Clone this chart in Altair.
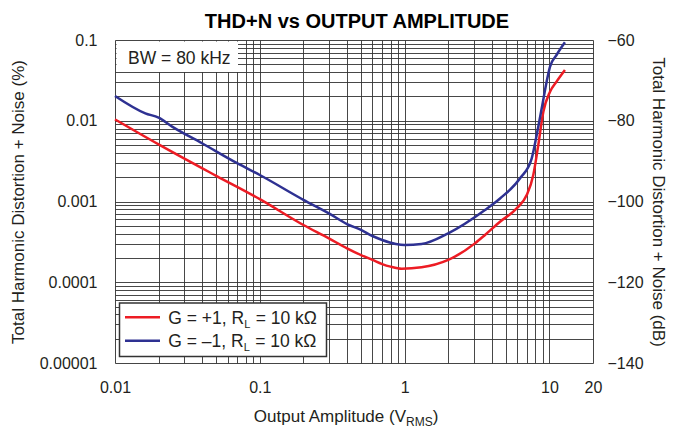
import altair as alt
import pandas as pd

# ---------------- text ----------------
title_text = "THD+N vs OUTPUT AMPLITUDE"
x_title_parts = ["Output Amplitude (V", "RMS", ")"]
y_title_left = "Total Harmonic Distortion + Noise (%)"
y_title_right = "Total Harmonic Distortion + Noise (dB)"
bw_note = "BW = 80 kHz"

series_names = ["G = +1, RL = 10 kΩ", "G = –1, RL = 10 kΩ"]
legend_main = ["G = +1, R", "G = –1, R"]
legend_sub = ["L", "L"]
legend_tail = ["= 10 kΩ", "= 10 kΩ"]
series_colors = ["#ED1C24", "#2E3192"]

# ---------------- data ----------------
gpos_amp = [0.01, 0.02, 0.05, 0.1, 0.2, 0.3, 0.4, 0.5, 0.6, 0.7, 0.8, 0.955,
            1.31, 2.0, 3.06, 3.59, 4.56, 5.94, 6.97, 7.74, 8.38, 9.08, 10.1,
            11.2, 12.8]
gpos_thd = [0.0104, 0.0051, 0.00208, 0.00107, 0.000512, 0.00035, 0.000263,
            0.000217, 0.000189, 0.000168, 0.000156, 0.000147, 0.000153,
            0.000189, 0.000303, 0.000385, 0.000562, 0.000822, 0.0012,
            0.00213, 0.00501, 0.01294, 0.0229, 0.0305, 0.0425]

gneg_amp = [0.01, 0.0162, 0.02, 0.0248, 0.0399, 0.0692, 0.1, 0.2, 0.3, 0.4,
            0.5, 0.6, 0.7, 0.87, 1.0, 1.31, 2.0, 3.59, 4.56, 6.27, 7.55, 8.17,
            8.85, 9.57, 10.1, 11.2, 12.8]
gneg_thd = [0.0203, 0.01236, 0.0109, 0.00845, 0.00526, 0.003, 0.00213,
            0.00105, 0.000714, 0.000526, 0.000444, 0.000374, 0.000334,
            0.000298, 0.000289, 0.000298, 0.000404, 0.000785, 0.00109,
            0.00194, 0.00343, 0.00667, 0.01426, 0.0305, 0.0468, 0.0652, 0.0936]

x_major = [0.01, 0.1, 1, 10, 20]
y_major = [0.00001, 0.0001, 0.001, 0.01, 0.1]
db_ticks = [-140, -120, -100, -80, -60]

x_grid = [round(m * 10.0 ** e, 10) for e in (-2, -1, 0) for m in range(1, 10)] + [10, 20]
y_grid = [round(m * 10.0 ** e, 12) for e in (-5, -4, -3, -2) for m in range(1, 10)] + [0.1]

rows = []
for name, xs, ys in [(series_names[0], gpos_amp, gpos_thd),
                     (series_names[1], gneg_amp, gneg_thd)]:
    for i, (a, t) in enumerate(zip(xs, ys)):
        rows.append({"series": name, "amp": a, "thd": t, "i": i})
df = pd.DataFrame(rows)

FONT = "Liberation Sans"
INK = "#231F20"
GRID = "#333333"
W, H = 478, 323

def lbl_expr(vals):
    arr = ",".join(repr(v) for v in vals)
    return f"indexof([{arr}], datum.value) >= 0 ? format(datum.value, '~g') : ''"

x_scale = alt.Scale(type="log", domain=[0.01, 20], nice=False)
y_scale = alt.Scale(type="log", domain=[0.00001, 0.1], nice=False)

x_axis = alt.Axis(values=x_grid, labelExpr=lbl_expr(x_major), title=None,
                  grid=True, gridColor=GRID, gridWidth=0.9,
                  ticks=False, tickSize=0, domain=False, labelPadding=16,
                  labelFontSize=16, labelColor=INK, labelFont=FONT,
                  labelFlush=False, labelOverlap=False, labelBound=False)
y_axis = alt.Axis(values=y_grid, labelExpr=lbl_expr(y_major), orient="left",
                  title=y_title_left, titleX=-97, titleY=H / 2, titleAngle=-90,
                  titleBaseline="middle", titleAlign="center",
                  titleFontSize=17, titleFontWeight="normal", titleColor=INK, titleFont=FONT,
                  grid=True, gridColor=GRID, gridWidth=0.9,
                  ticks=False, tickSize=0, domain=False, labelPadding=18,
                  labelFontSize=16, labelColor=INK, labelFont=FONT,
                  labelOverlap=False, labelBound=False, labelFlush=False)

lines = alt.Chart(df).mark_line(strokeWidth=2.5, interpolate="monotone").encode(
    x=alt.X("amp:Q", scale=x_scale, axis=x_axis),
    y=alt.Y("thd:Q", scale=y_scale, axis=y_axis),
    color=alt.Color("series:N", scale=alt.Scale(domain=series_names, range=series_colors), legend=None),
    order=alt.Order("i:Q"),
)

# BW note
bw_df = pd.DataFrame({"t": [bw_note]})
bw_box = alt.Chart(bw_df).mark_rect(fill="white").encode(
    x=alt.value(1.5), x2=alt.value(123), y=alt.value(1.5), y2=alt.value(32))
bw_text = alt.Chart(bw_df).mark_text(align="left", baseline="alphabetic", fontSize=17.5,
                                     font=FONT, color=INK).encode(
    x=alt.value(13), y=alt.value(24.3), text="t:N")

# legend
leg_df = pd.DataFrame({"t": ["legend"]})
leg_box = alt.Chart(leg_df).mark_rect(fill="white", stroke="#333333", strokeWidth=1.5).encode(
    x=alt.value(4.5), x2=alt.value(211.5), y=alt.value(263), y2=alt.value(316.5))

leg_layers = []
row_y = [277.3, 300.7]
main_w = [75.9, 75.4]
for k in range(2):
    cy = row_y[k]
    leg_layers.append(alt.Chart(leg_df).mark_rule(strokeWidth=2.5, color=series_colors[k]).encode(
        x=alt.value(10), x2=alt.value(45), y=alt.value(cy)))
    leg_layers.append(alt.Chart(pd.DataFrame({"t": [legend_main[k]]})).mark_text(
        align="left", baseline="alphabetic", fontSize=17.5, font=FONT, color=INK).encode(
        x=alt.value(53.3), y=alt.value(cy + 6.3), text="t:N"))
    leg_layers.append(alt.Chart(pd.DataFrame({"t": [legend_sub[k]]})).mark_text(
        align="left", baseline="alphabetic", fontSize=11, font=FONT, color=INK).encode(
        x=alt.value(53.3 + main_w[k]), y=alt.value(cy + 10.5), text="t:N"))
    leg_layers.append(alt.Chart(pd.DataFrame({"t": [legend_tail[k]]})).mark_text(
        align="left", baseline="alphabetic", fontSize=17.5, font=FONT, color=INK).encode(
        x=alt.value(53.3 + main_w[k] + 11.5), y=alt.value(cy + 6.3), text="t:N"))

# chart title
title_mark = alt.Chart(pd.DataFrame({"t": [title_text]})).mark_text(
    align="center", baseline="alphabetic", fontSize=20, fontWeight="bold", font=FONT, color="#000000").encode(
    x=alt.value(242), y=alt.value(-12.3), text="t:N")

# x axis title with subscript
xt_x = 291
xt_layers = [
    alt.Chart(pd.DataFrame({"t": [x_title_parts[0]]})).mark_text(
        align="right", baseline="alphabetic", fontSize=17, font=FONT, color=INK).encode(
        x=alt.value(xt_x), y=alt.value(381.7), text="t:N"),
    alt.Chart(pd.DataFrame({"t": [x_title_parts[1]]})).mark_text(
        align="left", baseline="alphabetic", fontSize=12, font=FONT, color=INK).encode(
        x=alt.value(xt_x), y=alt.value(385.7), text="t:N"),
    alt.Chart(pd.DataFrame({"t": [x_title_parts[2]]})).mark_text(
        align="left", baseline="alphabetic", fontSize=17, font=FONT, color=INK).encode(
        x=alt.value(xt_x + 26.7), y=alt.value(381.7), text="t:N"),
]

# right dB axis
db_df = pd.DataFrame({"db": db_ticks})
db_axis = alt.Axis(values=db_ticks, orient="right", title=y_title_right,
                   titleX=64, titleY=H / 2, titleAngle=90, titleBaseline="middle",
                   titleAlign="center", titleFontSize=17, titleFontWeight="normal",
                   titleColor=INK, titleFont=FONT,
                   grid=False, ticks=False, tickSize=0, domain=False, labelPadding=14,
                   labelFontSize=16, labelColor=INK, labelFont=FONT,
                   labelOverlap=False, labelBound=False, labelFlush=False)
db_layer = alt.Chart(db_df).mark_point(opacity=0).encode(
    x=alt.value(0),
    y=alt.Y("db:Q", scale=alt.Scale(domain=[-140, -60], nice=False, zero=False), axis=db_axis),
)

chart = alt.layer(
    lines, bw_box, bw_text, leg_box, *leg_layers, title_mark, *xt_layers, db_layer
).resolve_scale(y="independent").properties(
    width=W, height=H, autosize="none",
    padding={"left": 107, "top": 32, "right": 74, "bottom": 66},
    background="white",
).configure_view(stroke="#222222", strokeWidth=2).configure(font=FONT)

chart.save("out.html", embed_options={"renderer": "svg", "actions": False})
